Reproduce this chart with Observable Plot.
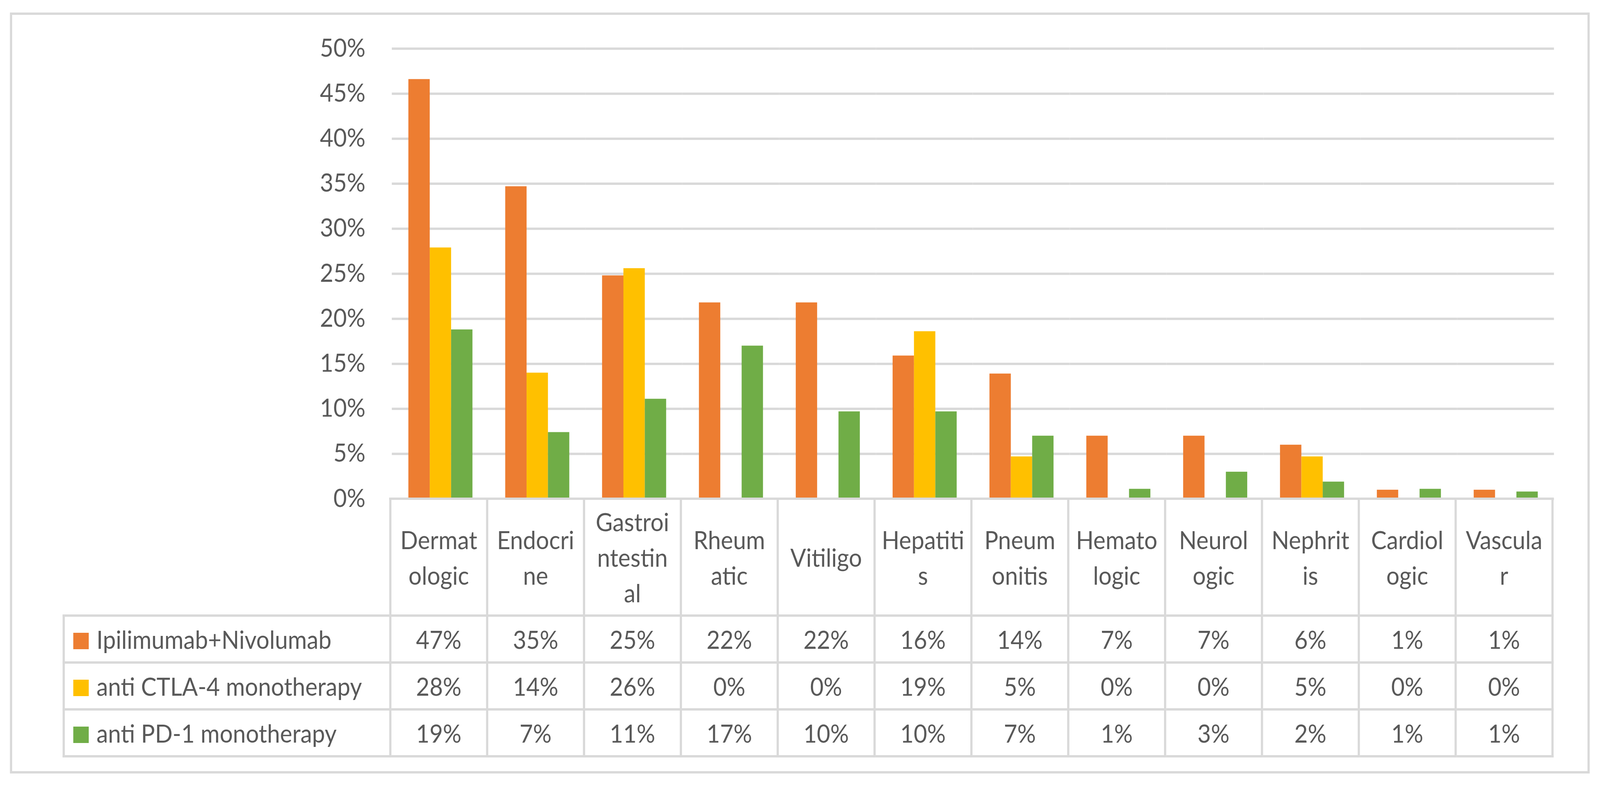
<!DOCTYPE html>
<html>
<head>
<meta charset="utf-8">
<script src="https://cdn.jsdelivr.net/npm/d3@7"></script>
<script src="https://cdn.jsdelivr.net/npm/@observablehq/plot@0.6"></script>
<style>
  html, body { margin: 0; padding: 0; background: #fff; overflow: hidden; }
  #wrap { position: fixed; left: 0; top: 0; width: 100vw; height: 100vh; overflow: hidden; background: #fff; }
  #root { width: 4345px; height: 2011px; position: absolute; left: 0; top: 0; transform-origin: 0 0; font-family: Lato, "Open Sans", sans-serif; color: #595959; background: #fff; }
  #frame { position: absolute; left: 27px; top: 32px; width: 4290px; height: 1947px; border: 6px solid #D9D9D9; box-sizing: border-box; }
  #chart { position: absolute; left: 0; top: 0; }
  table.datatable { position: absolute; border-collapse: collapse; table-layout: fixed; font-size: 63px; font-family: Lato, sans-serif; color: #595959; }
  table.datatable td { border: 6px solid #D9D9D9; padding: 0; text-align: center; vertical-align: middle; background: #fff; white-space: pre-line; overflow: visible; }
  table.datatable td.corner { border: none; background: transparent; }
  table.datatable td.legend { text-align: left; padding-left: 23px; white-space: nowrap; }
  table.datatable td.header { line-height: 91px; }
  .swatch { display: inline-block; width: 42px; height: 42px; margin-right: 21px; vertical-align: middle; position: relative; top: -4px; }
</style>
</head>
<body>
<div id="wrap">
<div id="root">
  <div id="frame"></div>
  <div id="chart"></div>
</div>
</div>
<script>
// ---- data ----
const categories = ["Dermatologic", "Endocrine", "Gastrointestinal", "Rheumatic", "Vitiligo", "Hepatitis",
  "Pneumonitis", "Hematologic", "Neurologic", "Nephritis", "Cardiologic", "Vascular"];
const categoryLabels = ["Dermat\nologic", "Endocri\nne", "Gastroi\nntestin\nal", "Rheum\natic", "Vitiligo", "Hepatiti\ns",
  "Pneum\nonitis", "Hemato\nlogic", "Neurol\nogic", "Nephrit\nis", "Cardiol\nogic", "Vascula\nr"];
const seriesNames = ["Ipilimumab+Nivolumab", "anti CTLA-4 monotherapy", "anti PD-1 monotherapy"];
const seriesColors = ["#ED7D31", "#FFC000", "#70AD47"];
const ipiNivo = [0.466, 0.347, 0.248, 0.218, 0.218, 0.159, 0.139, 0.070, 0.070, 0.060, 0.010, 0.010];
const ctla4   = [0.279, 0.140, 0.256, 0.000, 0.000, 0.186, 0.047, 0.000, 0.000, 0.047, 0.000, 0.000];
const pd1     = [0.188, 0.074, 0.111, 0.170, 0.097, 0.097, 0.070, 0.011, 0.030, 0.019, 0.011, 0.008];
const yTicks = [0, 0.05, 0.10, 0.15, 0.20, 0.25, 0.30, 0.35, 0.40, 0.45, 0.50];

const seriesValues = [ipiNivo, ctla4, pd1];
const rows = categories.flatMap((c, i) => seriesNames.map((s, j) => ({category: c, series: s, value: seriesValues[j][i]})));
const pct = d3.format(".0%");

// ---- fit the 4345x2011 design to the actual viewport ----
const DW = 4345, DH = 2011;
function fit() {
  const sx = (window.innerWidth / DW) || 1;
  const sy = (window.innerHeight / DH) || sx;
  document.getElementById("root").style.transform = "scale(" + sx + "," + sy + ")";
}
fit();
window.addEventListener("resize", fit);

// ---- chart ----
const W = 4345, H = 1280, mL = 1060, mR = 122, mT = 124, mB = 4;
const chart = Plot.plot({
  width: W, height: H,
  marginLeft: mL, marginRight: mR, marginTop: mT, marginBottom: mB,
  style: {fontFamily: "Lato, sans-serif", fontSize: "63px", color: "#595959", background: "transparent", overflow: "visible", maxWidth: "none"},
  facet: {data: rows, x: "category"},
  fx: {domain: categories, padding: 0, axis: null, label: null},
  x: {domain: seriesNames, paddingInner: 0, paddingOuter: 0.745, axis: null, label: null},
  y: {domain: [0, 0.5], ticks: yTicks, tickFormat: pct, tickSize: 0, tickPadding: 72, label: null},
  color: {domain: seriesNames, range: seriesColors},
  marks: [
    Plot.ruleY(yTicks, {stroke: "#D9D9D9", strokeWidth: 6}),
    Plot.barY(rows, {x: "series", y: "value", fill: "series"})
  ]
});
document.getElementById("chart").appendChild(chart);

// ---- data table (aligned with the chart's facet scale) ----
let fxs = null;
try { fxs = chart.scale("fx"); } catch (e) { fxs = null; }
const x0 = fxs && fxs.range ? fxs.range[0] : mL;
const colW = fxs && fxs.bandwidth ? fxs.bandwidth : (W - mL - mR) / categories.length;
const tableLeft = 173, tableTop = 1276;
const legendW = x0 - tableLeft;

const table = d3.select("#root").append("table").attr("class", "datatable")
  .style("left", (tableLeft - 3) + "px")
  .style("top", (tableTop - 3) + "px")
  .style("width", (legendW + colW * categories.length) + "px");
const cg = table.append("colgroup");
cg.append("col").style("width", legendW + "px");
categories.forEach(() => cg.append("col").style("width", colW + "px"));

const hr = table.append("tr").style("height", "299px");
hr.append("td").attr("class", "corner");
categoryLabels.forEach(l => hr.append("td").attr("class", "header").text(l));

seriesNames.forEach((s, j) => {
  const tr = table.append("tr").style("height", "120px");
  const lt = tr.append("td").attr("class", "legend");
  lt.append("span").attr("class", "swatch").style("background", seriesColors[j]);
  lt.append("span").text(s);
  seriesValues[j].forEach(v => tr.append("td").text(pct(v)));
});
</script>
</body>
</html>
